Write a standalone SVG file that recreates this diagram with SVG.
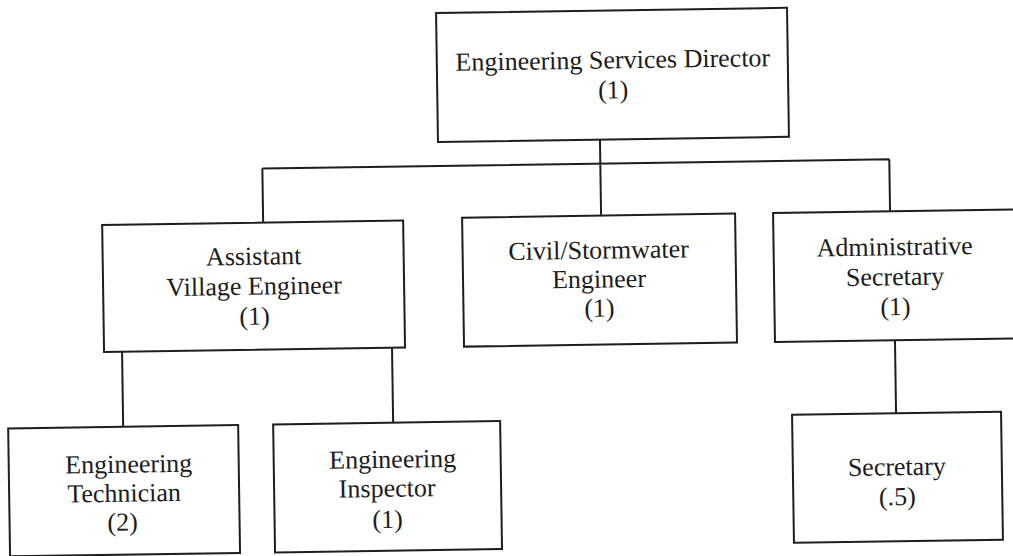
<svg xmlns="http://www.w3.org/2000/svg" width="1013" height="556" viewBox="0 0 1013 556">
  <style>
    .box { fill: #ffffff; stroke: #1e1e1e; stroke-width: 2; }
    .wire { fill: none; stroke: #1e1e1e; stroke-width: 2; }
    text { font-family: "Liberation Serif", "Times New Roman", serif; font-size: 26px; fill: #1c1c1c; text-anchor: middle; }
  </style>
  <rect width="1013" height="556" fill="#ffffff"/>
  <!-- whole chart sits slightly tilted on the page -->
  <g transform="rotate(-0.85 506 278)">
    <g id="connectors">
      <path class="wire" d="M602 141 V165 M264 165 H891 M264 165 V219 M602 165 V217 M891 165 V217"/>
      <path class="wire" d="M121 346 V421"/>
      <path class="wire" d="M391 346 V421"/>
      <path class="wire" d="M894 346 V419"/>
    </g>
    <g id="director">
      <rect class="box" x="440" y="12" width="351" height="129"/>
      <text x="616" y="70">Engineering Services Director</text>
      <text x="616" y="100">(1)</text>
    </g>
    <g id="assistant-engineer">
      <rect class="box" x="103" y="219" width="301" height="127"/>
      <text x="254" y="261">Assistant</text>
      <text x="254" y="291">Village Engineer</text>
      <text x="254" y="321">(1)</text>
    </g>
    <g id="civil-engineer">
      <rect class="box" x="463" y="217" width="273" height="129"/>
      <text x="599" y="260">Civil/Stormwater</text>
      <text x="599" y="289">Engineer</text>
      <text x="599" y="318">(1)</text>
    </g>
    <g id="admin-secretary">
      <rect class="box" x="774" y="217" width="270" height="129"/>
      <text x="895" y="261">Administrative</text>
      <text x="895" y="291">Secretary</text>
      <text x="895" y="321">(1)</text>
    </g>
    <g id="technician">
      <rect class="box" x="6" y="421" width="230" height="128"/>
      <text x="126" y="467">Engineering</text>
      <text x="121" y="496">Technician</text>
      <text x="119" y="525">(2)</text>
    </g>
    <g id="inspector">
      <rect class="box" x="271" y="421" width="227" height="128"/>
      <text x="390" y="466">Engineering</text>
      <text x="384" y="495">Inspector</text>
      <text x="384" y="526">(1)</text>
    </g>
    <g id="secretary">
      <rect class="box" x="790" y="419" width="209" height="128"/>
      <text x="894" y="481">Secretary</text>
      <text x="894" y="511">(.5)</text>
    </g>
  </g>
</svg>
